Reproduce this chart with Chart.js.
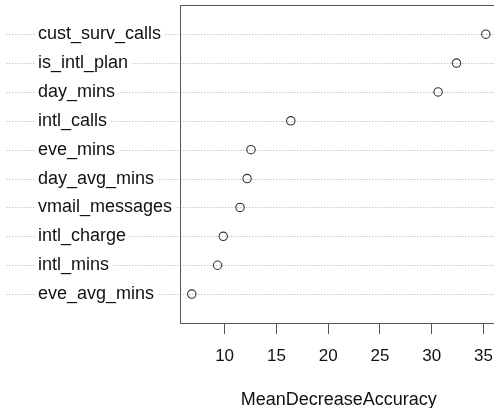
<!DOCTYPE html>
<html>
<head>
<meta charset="utf-8">
<script src="https://cdn.jsdelivr.net/npm/chart.js@4.4.1/dist/chart.umd.min.js"></script>
<style>
  html, body { margin: 0; padding: 0; background: #fff; overflow: hidden; }
  #wrap { position: absolute; left: 0; top: 0; }
</style>
</head>
<body>
<div id="wrap"><canvas id="chart" width="510" height="408"></canvas></div>
<script>
// variables, top to bottom as in the plot
const variables = ['cust_surv_calls', 'is_intl_plan', 'day_mins', 'intl_calls', 'eve_mins',
                   'day_avg_mins', 'vmail_messages', 'intl_charge', 'intl_mins', 'eve_avg_mins'];
const meanDecreaseAccuracy = [35.22, 32.39, 30.61, 16.39, 12.55, 12.17, 11.49, 9.87, 9.32, 6.83];
const xTicks = [10, 15, 20, 25, 30, 35];

const n = variables.length;
const minV = Math.min(...meanDecreaseAccuracy);
const maxV = Math.max(...meanDecreaseAccuracy);
const ext = (maxV - minV) * 0.04;

const points = meanDecreaseAccuracy.map((v, i) => ({ x: v, y: n - i }));

// dotted lines, row labels and the box, like R's dotchart
const dotchartPlugin = {
    id: 'dotchart',
    beforeDatasetsDraw(chart) {
        const ctx = chart.ctx;
        const area = chart.chartArea;
        const yScale = chart.scales.y;
        ctx.save();
        ctx.font = '18px "Liberation Sans", Arial, sans-serif';
        ctx.textBaseline = 'middle';
        ctx.textAlign = 'left';
        variables.forEach((name, i) => {
            const y = Math.round(yScale.getPixelForValue(n - i)) + 0.5;
            ctx.strokeStyle = '#c8c8c8';
            ctx.lineWidth = 1;
            ctx.setLineDash([1.5, 1.5]);
            ctx.beginPath();
            ctx.moveTo(6, y);
            ctx.lineTo(chart.width, y);
            ctx.stroke();
            const w = ctx.measureText(name).width;
            ctx.fillStyle = '#fff';
            ctx.fillRect(35, y - 10, w + 6, 20);
            ctx.fillStyle = '#111';
            ctx.fillText(name, 38, y);
        });
        ctx.setLineDash([]);
        // box (right side falls outside the window)
        ctx.strokeStyle = '#555';
        ctx.lineWidth = 1;
        ctx.strokeRect(Math.round(area.left) + 0.5, Math.round(area.top) + 0.5,
                       area.right - area.left, Math.round(area.bottom - area.top));
        ctx.restore();
    }
};

new Chart(document.getElementById('chart'), {
    type: 'scatter',
    data: {
        datasets: [{
            data: points,
            pointStyle: 'circle',
            pointRadius: 4.2,
            pointHoverRadius: 4.2,
            backgroundColor: 'rgba(0,0,0,0)',
            borderColor: '#333',
            borderWidth: 1.1
        }]
    },
    options: {
        responsive: false,
        animation: false,
        events: [],
        layout: { padding: { left: 180, top: 5, right: 12.4, bottom: 0 } },
        plugins: { legend: { display: false }, tooltip: { enabled: false } },
        scales: {
            x: {
                type: 'linear',
                min: minV - ext,
                max: maxV + ext,
                afterBuildTicks: (scale) => { scale.ticks = xTicks.map(v => ({ value: v })); },
                afterFit: (scale) => { scale.height = 85; },
                grid: { drawOnChartArea: false, drawTicks: true, tickLength: 11, color: '#555' },
                border: { display: false },
                ticks: {
                    color: '#111',
                    padding: 12,
                    maxRotation: 0,
                    font: { family: '"Liberation Sans", Arial, sans-serif', size: 17 }
                },
                title: {
                    display: true,
                    text: 'MeanDecreaseAccuracy',
                    color: '#111',
                    padding: { top: 0, bottom: -1 },
                    font: { family: '"Liberation Sans", Arial, sans-serif', size: 18, lineHeight: 1 }
                }
            },
            y: {
                type: 'linear',
                display: false,
                min: 0,
                max: n + 1
            }
        }
    },
    plugins: [dotchartPlugin]
});
</script>
</body>
</html>
